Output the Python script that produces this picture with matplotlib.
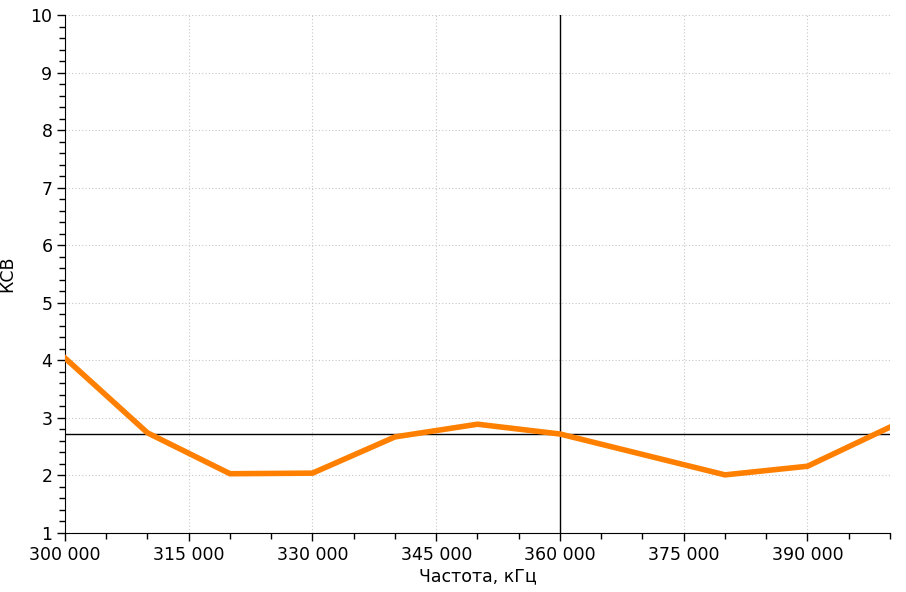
import matplotlib
matplotlib.use('Agg')
import matplotlib.pyplot as plt
from matplotlib.ticker import MultipleLocator, AutoMinorLocator, FuncFormatter

freq = [300000, 310000, 320000, 330000, 340000, 350000, 360000, 380000, 390000, 400000]
swr = [4.04, 2.74, 2.03, 2.04, 2.67, 2.89, 2.72, 2.01, 2.16, 2.84]

cursor_x = 360000
cursor_y = 2.72

fig = plt.figure(figsize=(9.06, 5.92), dpi=100)
ax = fig.add_axes([65 / 906, 1 - 533 / 592, 825 / 906, 518 / 592])

ax.plot(freq, swr, color='#ff8000', lw=4, solid_joinstyle='miter', zorder=3)
# cursor crosshair
ax.axvline(cursor_x, color='black', lw=1, zorder=2)
ax.axhline(cursor_y, color='black', lw=1, zorder=2)

ax.set_xlim(300000, 400000)
ax.set_ylim(1, 10)
ax.xaxis.set_major_locator(MultipleLocator(15000))
ax.xaxis.set_minor_locator(AutoMinorLocator(3))
ax.yaxis.set_major_locator(MultipleLocator(1))
ax.yaxis.set_minor_locator(AutoMinorLocator(5))
ax.xaxis.set_major_formatter(FuncFormatter(lambda v, p: f'{int(v):,}'.replace(',', ' ')))

ax.grid(True, which='major', color='#c8c8c8', linestyle=(0, (1, 2)), lw=0.8)
for s in ['top', 'right']:
    ax.spines[s].set_visible(False)
ax.tick_params(which='major', length=6, width=1, labelsize=12.5, direction='out', pad=3)
ax.tick_params(which='minor', length=4, width=1, direction='out')

ax.set_xlabel('Частота, кГц', fontsize=12.5, labelpad=3)
ax.set_ylabel('КСВ', fontsize=12.5, labelpad=10)

fig.savefig('out.png', dpi=100)
